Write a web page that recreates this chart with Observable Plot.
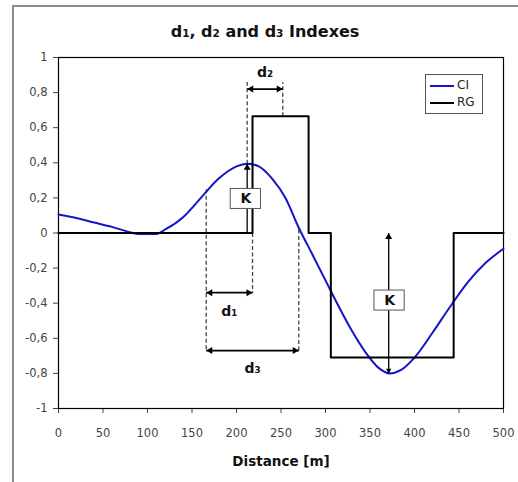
<!DOCTYPE html>
<html><head><meta charset="utf-8">
<script src="https://cdn.jsdelivr.net/npm/d3@7"></script>
<script src="https://cdn.jsdelivr.net/npm/@observablehq/plot@0.6"></script>
<style>
body{margin:0;background:#fff;overflow:hidden;}
#wrap{position:relative;width:518px;height:482px;font-family:"DejaVu Sans",sans-serif;overflow:hidden;}
#frame{position:absolute;left:12px;top:5px;width:620px;height:620px;border-left:2px solid #8c8c8c;border-top:2px solid #8c8c8c;}
#chart{position:absolute;left:0;top:0;}
#title{position:absolute;left:0;width:530px;top:22px;text-align:center;font-weight:bold;font-size:16px;color:#111;}
#title .s{font-size:10.5px;}
#xlabel{position:absolute;left:181px;width:200px;top:453px;text-align:center;font-weight:bold;font-size:13.5px;color:#111;}
#legend{position:absolute;left:425px;top:74px;width:56px;height:38px;border:1px solid #555;background:#fff;font-size:12px;color:#222;}
#legend .row{position:absolute;left:4px;height:16px;line-height:16px;}
#legend .sw{display:inline-block;width:24px;height:0;border-top:2px solid;vertical-align:middle;margin-right:3px;}
</style></head>
<body>
<div id="wrap">
  <div id="frame"></div>
  <div id="chart"></div>
  <div id="title">d<span class="s">1</span>, d<span class="s">2</span> and d<span class="s">3</span> Indexes</div>
  <div id="xlabel">Distance [m]</div>
  <div id="legend">
    <div class="row" style="top:2px"><span class="sw" style="border-color:#1414c8"></span>CI</div>
    <div class="row" style="top:19px"><span class="sw" style="border-color:#000"></span>RG</div>
  </div>
</div>
<script>
// CI series (blue curve)
const ciX = [0,20,40,60,80,90,100,110,120,140,160,180,200,212,225,240,255,270,285,300,315,330,345,360,372,385,400,420,440,460,480,500];
const ciY = [0.105,0.085,0.06,0.035,0.005,-0.005,-0.005,-0.005,0.02,0.09,0.2,0.31,0.38,0.395,0.38,0.31,0.2,0.03,-0.12,-0.27,-0.42,-0.56,-0.68,-0.77,-0.80,-0.78,-0.71,-0.57,-0.42,-0.28,-0.17,-0.09];
// RG series (black step), change points
const rgX = [0,218,281,306,444,500];
const rgY = [0,0.665,0,-0.71,0,0];
// tick labels
const xTicks = [0,50,100,150,200,250,300,350,400,450,500];
const yTicks = [-1,-0.8,-0.6,-0.4,-0.2,0,0.2,0.4,0.6,0.8,1];
// annotation: dashed guide lines (x, from y1 to y2)
const guideX  = [166, 212, 252, 218, 270];
const guideY1 = [0.25, 0.395, 0.665, 0, 0.02];
const guideY2 = [-0.67, 0.86, 0.86, -0.34, -0.67];
// annotation: double-headed dimension arrows
const dimName = ["d₁","d₂","d₃"];
const dimX1 = [166, 212, 166];
const dimX2 = [218, 252, 270];
const dimY  = [-0.34, 0.82, -0.67];
const dimLabelX = [192, 232, 218];
const dimLabelY = [-0.445, 0.915, -0.775];
// annotation: K arrows and boxes
const kX = [212, 371];
const kFrom = [0, -0.80];
const kTo = [0.395, 0];
const kBoxX = [210.5, 372];
const kBoxY = [0.194, -0.385];

const ci = ciX.map((x,i)=>({x, y:ciY[i]}));
const rg = rgX.map((x,i)=>({x, y:rgY[i]}));
const guides = guideX.map((x,i)=>({x, y1:guideY1[i], y2:guideY2[i]}));
const dims = dimName.map((n,i)=>({n, x1:dimX1[i], x2:dimX2[i], y:dimY[i], lx:dimLabelX[i], ly:dimLabelY[i]}));
const karrows = kX.map((x,i)=>({x, y1:kFrom[i], y2:kTo[i]}));
const kboxes = kBoxX.map((x,i)=>({x, y:kBoxY[i]}));

const fmt = d => String(d).replace(".", ",");
const head = {symbol: "triangle", r: 2.6, fill: "#000", stroke: "none"};

const chart = Plot.plot({
  width: 518, height: 482,
  marginTop: 57, marginLeft: 58, marginRight: 15, marginBottom: 74,
  style: {fontFamily: "DejaVu Sans, sans-serif", fontSize: "11.5px", color: "#444", background: "transparent"},
  x: {domain: [0, 500], ticks: xTicks, tickSize: 5, tickPadding: 15, tickFormat: d => String(d), label: null},
  y: {domain: [-1, 1], ticks: yTicks, tickSize: 5, tickPadding: 6, tickFormat: fmt, label: null},
  marks: [
    Plot.frame({stroke: "#000", strokeWidth: 1.2}),
    Plot.link(guides, {x1: "x", x2: "x", y1: "y1", y2: "y2", stroke: "#444", strokeWidth: 1.3, strokeDasharray: "4,2.5"}),
    Plot.line(ci, {x: "x", y: "y", curve: "monotone-x", stroke: "#1414c8", strokeWidth: 2}),
    Plot.line(rg, {x: "x", y: "y", curve: "step-after", stroke: "#000", strokeWidth: 2}),
    // dimension arrows
    Plot.link(dims, {x1: "x1", x2: "x2", y1: "y", y2: "y", stroke: "#000", strokeWidth: 1.6, insetLeft: 3, insetRight: 3}),
    Plot.dot(dims, {x: "x1", y: "y", ...head, rotate: -90, dx: 4}),
    Plot.dot(dims, {x: "x2", y: "y", ...head, rotate: 90, dx: -4}),
    // K arrows
    Plot.link(karrows, {x1: "x", x2: "x", y1: "y1", y2: "y2", stroke: "#000", strokeWidth: 1.3}),
    Plot.dot(karrows, {x: "x", y: "y2", ...head, rotate: 0, dy: 4}),
    Plot.dot(karrows.filter(d => d.y1 < 0), {x: "x", y: "y1", ...head, r: 2, rotate: 180, dy: -3}),
    Plot.rect(kboxes, {x1: d => d.x - 17, x2: d => d.x + 17, y1: d => d.y - 0.057, y2: d => d.y + 0.057, fill: "#fff", stroke: "#555", strokeWidth: 1}),
    Plot.text(kboxes, {x: "x", y: "y", text: () => "K", fontWeight: "bold", fontSize: 14, fill: "#111"}),
    Plot.text(dims, {x: "lx", y: "ly", text: "n", fontWeight: "bold", fontSize: 14, fill: "#111"})
  ]
});
document.getElementById("chart").appendChild(chart);
</script>
</body></html>
